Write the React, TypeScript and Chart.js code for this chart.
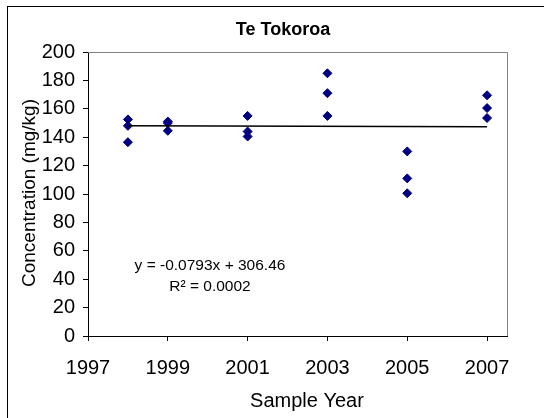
import React, { useEffect, useRef } from "react";
import { Chart, registerables } from "chart.js";

Chart.register(...registerables);

const years = [1998, 1998, 1998, 1999, 1999, 1999, 2001, 2001, 2001, 2003, 2003, 2003, 2005, 2005, 2005, 2007, 2007, 2007];
const concentrations = [152.5, 148, 136.5, 151, 150, 144.5, 155, 144, 140.5, 185, 171, 155, 130, 111, 100.5, 169.5, 160.5, 153.5];
const trendX = [1998, 2007];
const trendY = [148.02, 147.31];
const xTickValues = [1997, 1999, 2001, 2003, 2005, 2007];
const titleText = "Te Tokoroa";
const xTitle = "Sample Year";
const yTitle = "Concentration (mg/kg)";
const eqLine1 = "y = -0.0793x + 306.46";
const eqLine2 = "R² = 0.0002";

const FONT = "'Liberation Sans', Arial, sans-serif";

const decorPlugin = {
  id: "decor",
  beforeDraw(chart: any) {
    const ctx = chart.ctx;
    ctx.save();
    ctx.fillStyle = "#ffffff";
    ctx.fillRect(0, 0, chart.width, chart.height);
    ctx.restore();
  },
  afterDraw(chart: any) {
    const ctx = chart.ctx;
    const a = chart.chartArea;
    ctx.save();
    ctx.strokeStyle = "#000000";
    ctx.lineWidth = 1;
    ctx.strokeRect(7.5, 6.5, 700, 700);
    ctx.strokeStyle = "#808080";
    ctx.beginPath();
    ctx.moveTo(a.left, a.top + 0.5);
    ctx.lineTo(a.right + 0.5, a.top + 0.5);
    ctx.lineTo(a.right + 0.5, a.bottom);
    ctx.stroke();
    ctx.fillStyle = "#000000";
    ctx.textAlign = "center";
    ctx.textBaseline = "middle";
    ctx.font = "bold 18px " + FONT;
    ctx.fillText(titleText, 283, 30);
    ctx.font = "20px " + FONT;
    ctx.fillText(xTitle, 307, 401);
    ctx.save();
    ctx.translate(30, 193);
    ctx.rotate(-Math.PI / 2);
    ctx.font = "19px " + FONT;
    ctx.fillText(yTitle, 0, 0);
    ctx.restore();
    ctx.font = "15.5px " + FONT;
    ctx.fillText(eqLine1, 210, 266);
    ctx.fillText(eqLine2, 210, 287);
    ctx.restore();
  },
};

export default function App() {
  const ref = useRef<HTMLCanvasElement | null>(null);
  useEffect(() => {
    if (!ref.current) return;
    const points = years.map((x, i) => ({ x, y: concentrations[i] }));
    const trend = trendX.map((x, i) => ({ x, y: trendY[i] }));
    const chart = new Chart(ref.current, {
      type: "scatter",
      data: {
        datasets: [
          {
            type: "line",
            data: trend,
            borderColor: "#000000",
            borderWidth: 1.6,
            pointRadius: 0,
            showLine: true,
            fill: false,
          } as any,
          {
            data: points,
            pointStyle: "rectRot",
            pointRadius: 4.5,
            backgroundColor: "#000080",
            borderColor: "#000080",
            borderWidth: 1,
          },
        ],
      },
      options: {
        responsive: false,
        animation: false,
        layout: { padding: { top: 52, right: 37, left: 0, bottom: 0 } },
        plugins: { legend: { display: false }, title: { display: false }, tooltip: { enabled: false } },
        scales: {
          x: {
            type: "linear",
            min: 1997,
            max: 2007.5,
            afterBuildTicks: (scale: any) => {
              scale.ticks = xTickValues.map((v) => ({ value: v }));
            },
            afterFit: (scale: any) => {
              scale.height = 82;
            },
            ticks: {
              color: "#000000",
              font: { family: FONT, size: 20 },
              padding: 15,
              maxRotation: 0,
              autoSkip: false,
              callback: (v: any) => String(v),
            },
            grid: { drawOnChartArea: false, drawTicks: true, tickLength: 5, color: "#000000" },
            border: { display: true, color: "#000000", width: 1 },
          },
          y: {
            type: "linear",
            min: 0,
            max: 200,
            afterFit: (scale: any) => {
              scale.width = 88;
            },
            ticks: {
              stepSize: 20,
              color: "#000000",
              font: { family: FONT, size: 20 },
              padding: 8,
              callback: (v: any) => String(v),
            },
            grid: { drawOnChartArea: false, drawTicks: true, tickLength: 5, color: "#000000" },
            border: { display: true, color: "#000000", width: 1 },
          },
        },
      },
      plugins: [decorPlugin],
    });
    return () => chart.destroy();
  }, []);
  return (
    <div style={{ position: "absolute", left: 0, top: 0, width: 544, height: 418 }}>
      <canvas ref={ref} width={544} height={418} style={{ display: "block" }} />
    </div>
  );
}
